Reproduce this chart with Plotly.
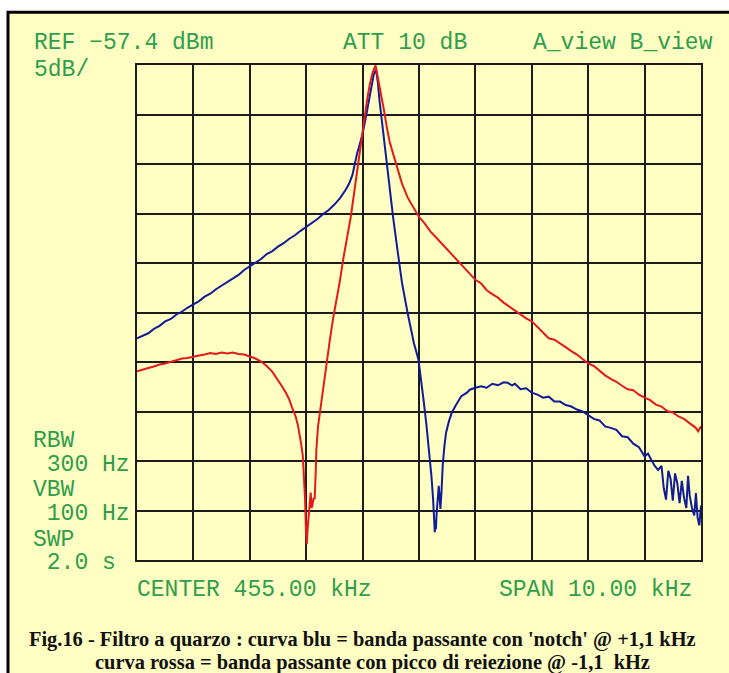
import plotly.graph_objects as go

# ---- data (read from the reference spectrum analyser screen) ----
# frequency in kHz, level in dBm (REF -57.4 dBm, 5 dB/div, span 450..460 kHz)
blue_khz = [450.0, 450.1, 450.2, 450.3, 450.4, 450.5, 450.6, 450.7, 450.8, 450.9,
            451.0, 451.1, 451.2, 451.3, 451.4, 451.5, 451.6, 451.7, 451.8, 451.9,
            452.0, 452.1, 452.2, 452.3, 452.4, 452.5, 452.6, 452.7, 452.8, 452.9,
            453.0, 453.1, 453.2, 453.3, 453.4, 453.5, 453.6, 453.7, 453.76, 453.82,
            453.86, 453.9, 453.95, 454.0, 454.05, 454.1, 454.15, 454.2, 454.24, 454.27,
            454.3, 454.35, 454.4, 454.47, 454.54, 454.62, 454.7, 454.8, 454.91, 454.99,
            455.04, 455.08, 455.13, 455.18, 455.22, 455.25, 455.27, 455.28, 455.29, 455.30,
            455.31, 455.33, 455.35, 455.37, 455.38, 455.40, 455.42, 455.45, 455.48, 455.53,
            455.58, 455.65, 455.75, 455.85, 455.9, 456.0, 456.1, 456.2, 456.3, 456.4,
            456.5, 456.57, 456.65, 456.7, 456.8, 456.9, 457.0, 457.1, 457.2, 457.3,
            457.4, 457.5, 457.6, 457.7, 457.8, 457.9, 458.0, 458.1, 458.2, 458.3,
            458.4, 458.5, 458.6, 458.7, 458.8, 458.9, 459.0, 459.06, 459.12, 459.18,
            459.24, 459.3, 459.34, 459.38, 459.42, 459.46, 459.5, 459.54, 459.58, 459.62,
            459.66, 459.70, 459.74, 459.77, 459.80, 459.84, 459.88, 459.91, 459.94, 459.97,
            460.0]
blue_dbm = [-85.0, -84.75, -84.5, -84.05, -83.75, -83.3, -83.05, -82.6, -82.3, -81.9,
            -81.55, -81.25, -80.8, -80.5, -80.05, -79.7, -79.35, -78.95, -78.6, -78.1,
            -77.75, -77.35, -77.0, -76.5, -76.2, -75.75, -75.4, -74.95, -74.6, -74.15,
            -73.75, -73.35, -72.95, -72.45, -72.05, -71.5, -70.85, -70.0, -69.4, -68.5,
            -67.35, -66.4, -65.4, -64.35, -62.9, -61.35, -59.8, -58.3, -57.9, -59.15,
            -61.0, -63.5, -66.0, -69.4, -72.75, -76.15, -79.45, -82.5, -85.5, -87.15,
            -89.15, -91.2, -93.65, -96.25, -98.9, -101.25, -103.65, -104.6, -103.4, -104.3,
            -102.9, -101.65, -99.9, -101.4, -102.25, -100.4, -97.9, -95.9, -94.55, -93.4,
            -92.55, -91.8, -90.85, -90.5, -90.2, -90.0, -89.85, -90.0, -89.6, -89.75,
            -89.45, -89.5, -89.75, -89.6, -90.15, -90.05, -90.5, -90.7, -91.0, -90.9,
            -91.4, -91.4, -91.75, -91.9, -92.2, -92.4, -92.75, -93.15, -93.3, -93.9,
            -94.05, -94.25, -94.9, -95.0, -95.65, -96.0, -96.95, -96.65, -97.3, -97.9,
            -98.3, -97.9, -100.15, -101.3, -98.4, -99.15, -101.4, -98.65, -99.65, -101.65,
            -99.4, -101.15, -102.15, -98.9, -100.9, -102.15, -102.9, -100.65, -103.15, -103.9,
            -101.9]

red_khz = [450.0, 450.1, 450.2, 450.3, 450.4, 450.5, 450.6, 450.7, 450.8, 450.9,
           451.0, 451.1, 451.2, 451.3, 451.4, 451.5, 451.6, 451.7, 451.8, 451.9,
           452.0, 452.1, 452.2, 452.3, 452.4, 452.5, 452.57, 452.64, 452.7, 452.75,
           452.81, 452.85, 452.88, 452.91, 452.94, 452.96, 452.98, 452.995, 453.01, 453.03,
           453.05, 453.07, 453.08, 453.095, 453.11, 453.13, 453.15, 453.17, 453.18, 453.21,
           453.25, 453.28, 453.32, 453.37, 453.42, 453.48, 453.55, 453.59, 453.66, 453.72,
           453.79, 453.86, 453.93, 453.98, 454.03, 454.08, 454.13, 454.18, 454.23, 454.28,
           454.33, 454.38, 454.43, 454.48, 454.54, 454.62, 454.7, 454.8, 454.9, 455.0,
           455.1, 455.2, 455.3, 455.4, 455.5, 455.6, 455.7, 455.8, 455.9, 456.0,
           456.1, 456.2, 456.3, 456.4, 456.5, 456.6, 456.7, 456.8, 456.9, 457.0,
           457.1, 457.2, 457.3, 457.4, 457.5, 457.6, 457.7, 457.8, 457.9, 458.0,
           458.1, 458.2, 458.3, 458.4, 458.5, 458.6, 458.7, 458.8, 458.9, 459.0,
           459.1, 459.2, 459.3, 459.4, 459.5, 459.6, 459.7, 459.8, 459.9, 459.95,
           460.0]
red_dbm = [-88.35, -88.15, -88.0, -87.85, -87.65, -87.55, -87.4, -87.2, -87.05, -87.0,
           -86.85, -86.75, -86.65, -86.5, -86.6, -86.45, -86.55, -86.45, -86.6, -86.65,
           -86.85, -87.05, -87.35, -87.8, -88.4, -89.2, -89.85, -90.5, -91.2, -92.0,
           -92.85, -93.7, -94.55, -95.65, -96.9, -98.9, -101.25, -104.4, -105.8, -103.9,
           -102.6, -100.9, -100.6, -102.15, -101.9, -101.15, -101.25, -98.4, -96.25, -93.9,
           -92.2, -90.65, -89.2, -87.15, -85.15, -82.9, -80.9, -79.45, -76.9, -74.9,
           -72.75, -69.9, -67.05, -64.65, -62.65, -60.9, -59.3, -58.15, -57.45, -58.9,
           -60.3, -62.0, -63.7, -65.15, -66.35, -68.0, -69.4, -70.8, -71.8, -72.75,
           -73.4, -74.2, -74.8, -75.4, -76.05, -76.65, -77.2, -77.8, -78.5, -79.1,
           -79.45, -80.15, -80.55, -80.9, -81.4, -81.8, -82.2, -82.55, -83.0, -83.3,
           -83.9, -84.4, -85.0, -85.15, -85.5, -85.9, -86.3, -86.65, -87.1, -87.55,
           -87.8, -88.3, -88.75, -89.1, -89.4, -89.8, -90.15, -90.25, -90.7, -91.0,
           -91.25, -91.7, -91.9, -92.35, -92.5, -92.9, -93.15, -93.6, -94.0, -94.4,
           -93.9]

# screen annotations
header_left = ["REF \u221257.4 dBm", "5dB/"]
header_mid = "ATT 10 dB"
header_right = "A_view B_view"
side_labels = ["RBW", " 300 Hz", "VBW", " 100 Hz", "SWP", " 2.0 s"]
footer_left = "CENTER 455.00 kHz"
footer_right = "SPAN 10.00 kHz"
caption = ["Fig.16 - Filtro a quarzo : curva blu = banda passante con 'notch' @ +1,1 kHz",
           "curva rossa = banda passante con picco di reiezione @ -1,1  kHz"]

# ---- figure ----
W, H = 729, 673
GREEN = "#2F9E4C"
YELLOW = "#FFFFC3"
GRID = "#1C1C1C"
MONO = "Liberation Mono, DejaVu Sans Mono, monospace"


def px(x):
    return x / W


def py(y):
    return 1 - y / H


fig = go.Figure()
fig.add_trace(go.Scatter(x=blue_khz, y=blue_dbm, mode="lines",
                         line=dict(color="#0F1B98", width=2), hoverinfo="skip"))
fig.add_trace(go.Scatter(x=red_khz, y=red_dbm, mode="lines",
                         line=dict(color="#E41A1A", width=2), hoverinfo="skip"))

annotations = []


def txt(text, x, y, anchor="left", font=None, h=None):
    a = dict(text=text, x=px(x), y=py(y), xref="paper", yref="paper",
             xanchor=anchor, yanchor="middle", showarrow=False,
             font=font or dict(family=MONO, size=23, color=GREEN))
    if h:
        a["height"] = h
    annotations.append(a)


txt(header_left[0], 32, 43)
txt(header_left[1], 32, 70)
txt(header_mid, 341, 43)
txt(header_right, 715, 43, anchor="right")
side_y = [441, 465, 490, 514, 540, 563]
for lab, yy in zip(side_labels, side_y):
    txt(lab, 31, yy, h=22)
txt(footer_left, 135, 590)
txt(footer_right, 694, 590, anchor="right")
cap_font = dict(family="Liberation Serif, Times New Roman, serif", size=20.4, color="#111111")
txt("<b>" + caption[0] + "</b>", 362, 639, anchor="center", font=cap_font)
txt("<b>" + caption[1] + "</b>", 372, 662, anchor="center", font=cap_font)

fig.update_layout(
    width=W, height=H,
    margin=dict(l=0, r=0, t=0, b=0),
    paper_bgcolor="white",
    plot_bgcolor="rgba(0,0,0,0)",
    showlegend=False,
    shapes=[dict(type="rect", xref="paper", yref="paper",
                 x0=px(8), x1=px(760), y0=py(700), y1=py(12.3),
                 fillcolor=YELLOW, line=dict(color="black", width=3), layer="below")],
    annotations=annotations,
    xaxis=dict(domain=[px(137), px(701)], range=[450, 460], dtick=1, tick0=450,
               showgrid=True, gridcolor=GRID, gridwidth=2, zeroline=False,
               showline=True, mirror=True, linecolor=GRID, linewidth=2,
               showticklabels=False, ticks="", fixedrange=True),
    yaxis=dict(domain=[py(560), py(65)], range=[-107.4, -57.4], dtick=5, tick0=-57.4,
               showgrid=True, gridcolor=GRID, gridwidth=2, zeroline=False,
               showline=True, mirror=True, linecolor=GRID, linewidth=2,
               showticklabels=False, ticks="", fixedrange=True),
)

fig.write_html("out.html", config={"displayModeBar": False},
               post_script="document.body.style.margin='0px';"
                           "document.body.style.overflow='hidden';")
